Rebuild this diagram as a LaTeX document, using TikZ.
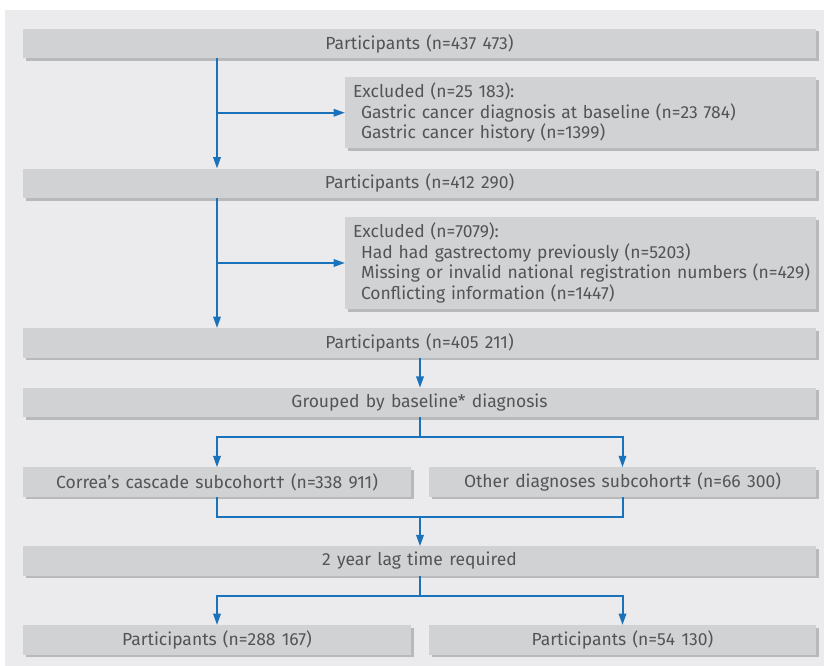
\documentclass[tikz,border=0pt]{standalone}
\usepackage{fontspec}
\setmainfont{Fira Sans}[WordSpace=1.35]
\usetikzlibrary{arrows.meta,shadows}
\definecolor{panel}{HTML}{EBEBED}
\definecolor{boxfill}{HTML}{D1D2D4}
\definecolor{boxshadow}{HTML}{B8B9BB}
\definecolor{flowblue}{HTML}{1A72BB}
\definecolor{txt}{HTML}{535456}
\begin{document}
\begin{tikzpicture}[x=1pt,y=-1pt,
  box/.style={fill=boxfill, draw=none, inner sep=0pt, outer sep=0pt, text=txt,
    font=\fontsize{17.5}{20.5}\selectfont,
    drop shadow={shadow xshift=2.5pt, shadow yshift=-2.5pt, fill=boxshadow, opacity=1}},
  wide/.style={box, minimum width=793pt, minimum height=29.5pt},
  half/.style={box, minimum width=388pt, minimum height=29.5pt},
  excl/.style={box, text width=467pt, inner xsep=2pt, align=left},
  link/.style={draw=flowblue, line width=2pt},
  arr/.style={link, -{Triangle[length=11.5pt,width=7.5pt]}}
]
\fill[white] (0,0) rectangle (824,666);
\useasboundingbox (0,0) rectangle (824,666);
\fill[panel] (5,10) rectangle (824,666);

\coordinate (colL) at (217,0);
\node[wide] (b1) at (419.5,43.75) {Participants (n=437 473)};
\node[excl, minimum height=71pt] (ex1) at (580.5,112.75) {\hspace*{6pt}Excluded (n=25 183):\\
\hspace*{14pt}Gastric cancer diagnosis at baseline (n=23 784)\\
\hspace*{14pt}Gastric cancer history (n=1399)};
\node[wide] (b2) at (419.5,183.25) {Participants (n=412 290)};
\node[excl, minimum height=92pt] (ex2) at (580.5,263) {\hspace*{6pt}Excluded (n=7079):\\
\hspace*{14pt}Had had gastrectomy previously (n=5203)\\
\hspace*{14pt}Missing or invalid national registration numbers (n=429)\\
\hspace*{14pt}Conflicting information (n=1447)};
\node[wide] (b3) at (419.5,342.75) {Participants (n=405 211)};
\node[wide] (b4) at (419.5,402.5) {Grouped by baseline* diagnosis};
\node[half] (c5a) at (217,482) {Correa’s cascade subcohort† (n=338 911)};
\node[half, minimum width=387pt] (c5b) at (622.5,482) {Other diagnoses subcohort‡ (n=66 300)};
\node[wide] (b6) at (419.5,561) {2 year lag time required};
\node[half] (c7a) at (217,639.75) {Participants (n=288 167)};
\node[half, minimum width=387pt] (c7b) at (622.5,639.75) {Participants (n=54 130)};

\coordinate (s1) at (420,437);
\coordinate (m1) at (420,516.5);
\coordinate (s2) at (420,595.5);

\draw[arr] (colL |- b1.south) -- (colL |- b2.north);
\draw[arr] (colL |- ex1.west) -- (ex1.west);
\draw[arr] (colL |- b2.south) -- (colL |- b3.north);
\draw[arr] (colL |- ex2.west) -- (ex2.west);
\draw[arr] (s1 |- b3.south) -- (s1 |- b4.north);
\draw[link] (s1 |- b4.south) -- (s1);
\draw[arr] (s1) -| (c5a.north);
\draw[arr] (s1) -| (c5b.north);
\draw[link] (c5a.south) |- (m1) -| (c5b.south);
\draw[arr] (m1) -- (s1 |- b6.north);
\draw[link] (s2 |- b6.south) -- (s2);
\draw[arr] (s2) -| (c7a.north);
\draw[arr] (s2) -| (c7b.north);
\end{tikzpicture}
\end{document}
